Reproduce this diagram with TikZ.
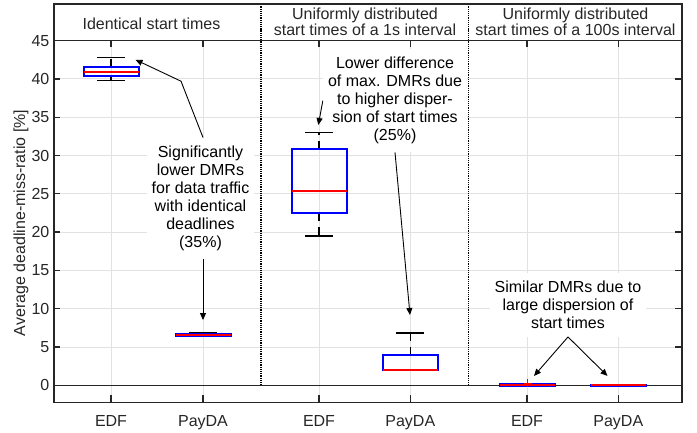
\documentclass[tikz,border=0pt]{standalone}
\usepackage{fontspec}
\setmainfont{Liberation Sans}
\usetikzlibrary{arrows.meta}
\definecolor{axisgray}{RGB}{38,38,38}
\definecolor{gridgray}{RGB}{226,226,226}
\begin{document}
\begin{tikzpicture}[x=1bp, y=7.66bp,
  note/.style={fill=white, align=center, inner xsep=5bp, inner ysep=8bp, font=\fontsize{16bp}{18bp}\selectfont},
  head/.style={align=center, inner sep=0pt, text=axisgray, font=\fontsize{16bp}{15.5bp}\selectfont},
  ticklabel/.style={inner sep=0pt, text=axisgray, font=\fontsize{16bp}{18bp}\selectfont},
  pointer/.style={-{Triangle[length=7bp,width=6bp]}, line width=0.9bp},
  gridline/.style={gridgray, line width=1bp},
  frame/.style={axisgray, line width=1.3bp},
  bx/.style={blue, line width=2bp},
  med/.style={red, line width=2bp},
  whiskcap/.style={black, line width=1.7bp},
  whisk/.style={black, line width=1.4bp, dash pattern=on 8bp off 6bp}]

\useasboundingbox (0,-6.097) rectangle (697,50.3);

\foreach \x in {111,203,319,410.3,527,618.3} {\draw[gridline] (\x,-2.2) -- (\x,45);}
\foreach \y in {5,10,...,40} {\draw[gridline] (54,\y) -- (682,\y);}
\draw[axisgray, line width=1.1bp] (54,0) -- (682,0);

\node[note] (lowdmr) at (200.5,24.43) {Significantly\\lower DMRs\\for data traffic\\with identical\\deadlines\\(35\%)};
\node[note] (lowdiff) at (395,37.15) {Lower difference\\of max. DMRs due\\to higher disper-\\sion of start times\\(25\%)};
\node[note] (simdmr) at (568,10.5) {Similar DMRs due to\\large dispersion of\\start times};

\foreach \x/\lo/\qa/\md/\qb/\hi in {111/39.78/40.33/40.95/41.5/42.8, 203/6.5/6.5/6.62/6.72/6.87,
  319/19.5/22.5/25.4/30.8/33.0, 410.3/1.95/1.95/2.0/3.95/6.87,
  527/-0.1/-0.1/0.02/0.15/0.15, 618.3/-0.05/-0.05/0.02/0.1/0.1}
{
  \draw[whisk] (\x,\qb) -- (\x,\hi);
  \draw[whisk] (\x,\qa) -- (\x,\lo);
  \draw[whiskcap] (\x-14,\hi) -- (\x+14,\hi);
  \draw[whiskcap] (\x-14,\lo) -- (\x+14,\lo);
  \draw[bx] (\x-27.5,\qa) rectangle (\x+27.5,\qb);
  \draw[med] (\x-27.5,\md) -- (\x+27.5,\md);
}
\draw[red, line width=1bp] (523.5,0.26) -- (531.5,0.26) (527.5,-0.25) -- (527.5,0.77);

\coordinate (edfa) at (135.5,42.5);
\coordinate (bend) at (181,39.7);
\coordinate (paydaa) at (203,8.52);
\coordinate (edfb) at (318.3,33.98);
\coordinate (paydab) at (410,9.18);
\coordinate (edfc) at (534,1.22);
\coordinate (paydac) at (607.5,1.22);

\draw[pointer] (lowdmr.north -| paydaa) -- (bend) -- (edfa);
\draw[pointer] (lowdmr.south -| paydaa) -- (paydaa);
\draw[pointer] (lowdiff.west) -- (edfb);
\draw[pointer] (lowdiff.south) -- (paydab);
\draw[pointer] (simdmr.south) -- (edfc);
\draw[pointer] (simdmr.south) -- (paydac);

\foreach \x in {261,468.3} {\draw[black, line width=1.2bp, densely dotted] (\x,0) -- (\x,49.78);}

\draw[frame] (54,-2.2) rectangle (682,49.78);
\draw[frame] (54,45) -- (682,45);
\foreach \y in {0,5,...,45} {
  \draw[frame] (54,\y) -- ++(6,0);
  \node[ticklabel, anchor=east] (yl\y) at (49.5,\y) {\y};
}
\foreach \y in {0,5,...,40} {\draw[frame] (682,\y) -- ++(-7,0);}
\foreach \x/\t [count=\i] in {111/EDF,203/PayDA,319/EDF,410.3/PayDA,527/EDF,618.3/PayDA} {
  \draw[frame] (\x,45) -- ++(0,-0.8);
  \draw[frame] (\x,-2.2) -- ++(0,0.9);
  \node[ticklabel, anchor=base] (xl\i) at (\x,-5.37) {\t};
}
\node[ticklabel, rotate=90, anchor=base] (ylab) at (25,21.2) {Average deadline-miss-ratio [\%]};

\node[head, anchor=base] (hd1) at (151.5,46.48) {Identical start times};
\node[head] (hd2) at (365,47.45) {Uniformly distributed\\start times of a 1s interval};
\node[head] (hd3) at (575.5,47.45) {Uniformly distributed\\start times of a 100s interval};

\end{tikzpicture}
\end{document}
